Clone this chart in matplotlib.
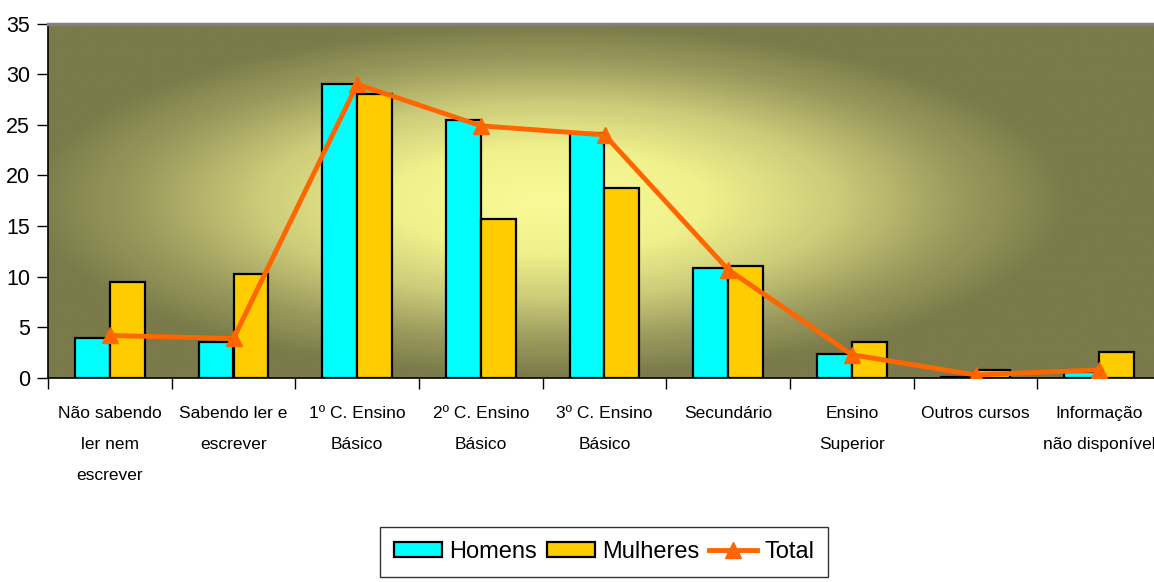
import numpy as np
import matplotlib
matplotlib.use('Agg')
import matplotlib.pyplot as plt
from matplotlib.colors import LinearSegmentedColormap

plt.rcParams['font.family'] = ['Liberation Sans', 'DejaVu Sans']

categorias = ['Não sabendo\nler nem\nescrever', 'Sabendo ler e\nescrever', '1º C. Ensino\nBásico',
              '2º C. Ensino\nBásico', '3º C. Ensino\nBásico', 'Secundário', 'Ensino\nSuperior',
              'Outros cursos', 'Informação\nnão disponível']
homens = [3.9, 3.6, 29.0, 25.5, 24.2, 10.9, 2.4, 0.1, 0.6]
mulheres = [9.5, 10.3, 28.0, 15.7, 18.8, 11.1, 3.6, 0.8, 2.6]
total = [4.2, 3.9, 29.0, 24.9, 24.0, 10.7, 2.3, 0.3, 0.8]

fig = plt.figure(figsize=(11.54, 5.82), dpi=100)
ax = fig.add_axes([48/1154, 1 - 378/582, 1113/1154, 354.5/582])

# fundo com gradiente a partir do centro
nx, ny = 600, 300
gx, gy = np.meshgrid(np.linspace(0, 1, nx), np.linspace(0, 1, ny))
r = np.sqrt(((gx - 0.45) / 0.47) ** 2 + ((gy - 0.5) / 0.5) ** 2)
t = np.clip(r, 0, 1)
cmap = LinearSegmentedColormap.from_list('fundo', [(0, '#FAFA98'), (0.3, '#F0F08C'), (0.55, '#CCCC7A'),
                                                   (0.78, '#9C9C5E'), (1, '#7A7A4A')])
ax.imshow(t, cmap=cmap, extent=[0, 1, 0, 1], transform=ax.transAxes, aspect='auto',
          origin='lower', zorder=0, vmin=0, vmax=1)

x = np.arange(len(categorias))
w = 0.283
ax.bar(x - w/2, homens, w, color='#00FFFF', edgecolor='black', linewidth=1.6, label='Homens', zorder=2)
ax.bar(x + w/2, mulheres, w, color='#FFCC00', edgecolor='black', linewidth=1.6, label='Mulheres', zorder=2)
ax.plot(x, total, color='#FF6600', linewidth=3.5, marker='^', markersize=11, label='Total', zorder=3)

ax.set_xlim(-0.5, len(categorias) - 0.5)
ax.set_ylim(0, 35)
ax.set_yticks(range(0, 36, 5))
ax.tick_params(axis='y', labelsize=15.5, length=8, width=1, direction='out', pad=5)
ax.set_xticks(x)
ax.set_xticklabels(categorias, fontsize=12.5)
for lab in ax.get_xticklabels():
    lab.set_linespacing(2.35)
ax.set_xticks(np.arange(-0.5, len(categorias), 1), minor=True)
ax.tick_params(axis='x', which='major', length=0, pad=20)
ax.tick_params(axis='x', which='minor', length=8, width=1)

ax.spines['right'].set_visible(False)
ax.spines['top'].set_color('#808080')
ax.spines['top'].set_linewidth(2.5)
ax.spines['left'].set_linewidth(1.2)
ax.spines['bottom'].set_linewidth(1.2)

h, l = ax.get_legend_handles_labels()
ordem = [l.index('Homens'), l.index('Mulheres'), l.index('Total')]
leg = fig.legend([h[i] for i in ordem], [l[i] for i in ordem], loc='upper center',
                 bbox_to_anchor=(604/1154, 1 - 527/582), ncol=3,
                 fontsize=17, frameon=True, fancybox=False, edgecolor='black',
                 handlelength=2.05, handleheight=0.6, columnspacing=0.4, handletextpad=0.3,
                 borderpad=0.6, borderaxespad=0)
leg.get_frame().set_linewidth(1)

fig.savefig('out.png', dpi=100)
